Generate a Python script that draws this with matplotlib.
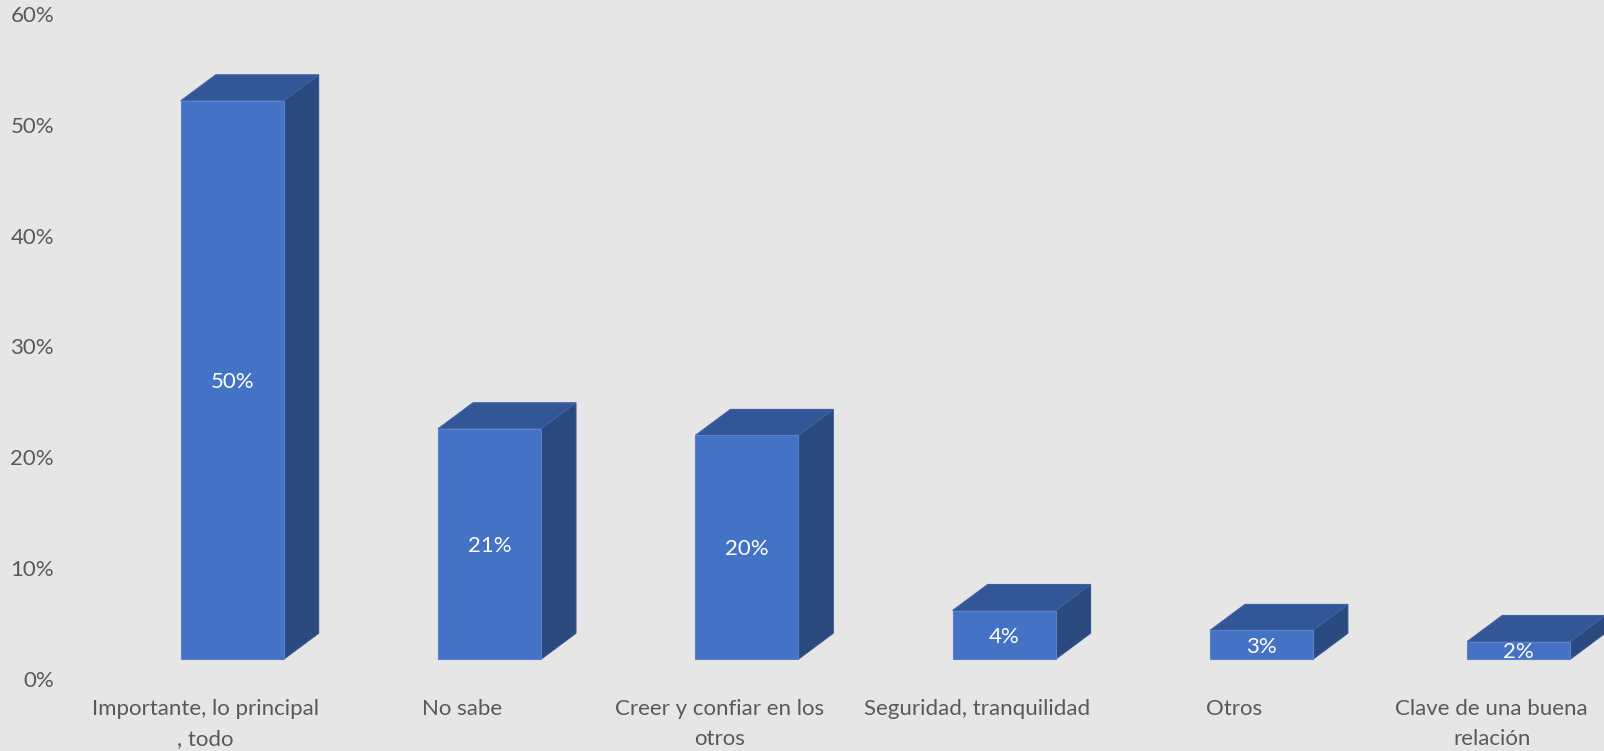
import matplotlib
matplotlib.use("Agg")
import matplotlib.pyplot as plt
from matplotlib.patches import Polygon

plt.rcParams["font.family"] = ["Lato", "DejaVu Sans"]

categories = ["Importante, lo principal\n, todo", "No sabe",
              "Creer y confiar en los\notros", "Seguridad, tranquilidad",
              "Otros", "Clave de una buena\nrelación"]
values = [50.4, 20.8, 20.2, 4.4, 2.6, 1.6]
yticks = [0, 10, 20, 30, 40, 50, 60]

BG = "#E7E6E6"
FRONT = "#4472C4"
TOP = "#335796"
SIDE = "#2A4A7F"
TEXT = "#595959"

W = 0.40      # front face width (category units)
DX = 0.136    # depth offset in x
DY = 2.35     # depth offset in y (percent units)
FS = 16

fig = plt.figure(figsize=(16.04, 7.51), dpi=100)
fig.patch.set_facecolor(BG)
ax = fig.add_axes([0, 0, 1, 1])
ax.set_facecolor(BG)
ax.set_xlim(-0.9025, 5.3315)
ax.set_ylim(-8.28, 59.5)
ax.axis("off")

for i, v in enumerate(values):
    x0, x1 = i - W / 2, i + W / 2
    top = [(x0, v), (x1, v), (x1 + DX, v + DY), (x0 + DX, v + DY)]
    side = [(x1, 0), (x1 + DX, DY), (x1 + DX, v + DY), (x1, v)]
    front = [(x0, 0), (x1, 0), (x1, v), (x0, v)]
    ax.add_patch(Polygon(side, closed=True, fc=SIDE, ec="#35558c", lw=0.8))
    ax.add_patch(Polygon(top, closed=True, fc=TOP, ec="#3f62a3", lw=0.8))
    ax.add_patch(Polygon(front, closed=True, fc=FRONT, ec="#5a82cc", lw=0.8))
    ax.text(i, v / 2 - 0.15, f"{v:.0f}%", color="white", fontsize=FS,
            ha="center", va="center")

for t in yticks:
    ax.text(-0.6926, t - 1.95, f"{t}%", color=TEXT, fontsize=FS,
            ha="right", va="center")

for i, c in enumerate(categories):
    ax.text(i - 0.105, -3.6, c, color=TEXT, fontsize=FS, ha="center",
            va="top", linespacing=1.6)

fig.savefig("out.png", dpi=100, facecolor=BG)
